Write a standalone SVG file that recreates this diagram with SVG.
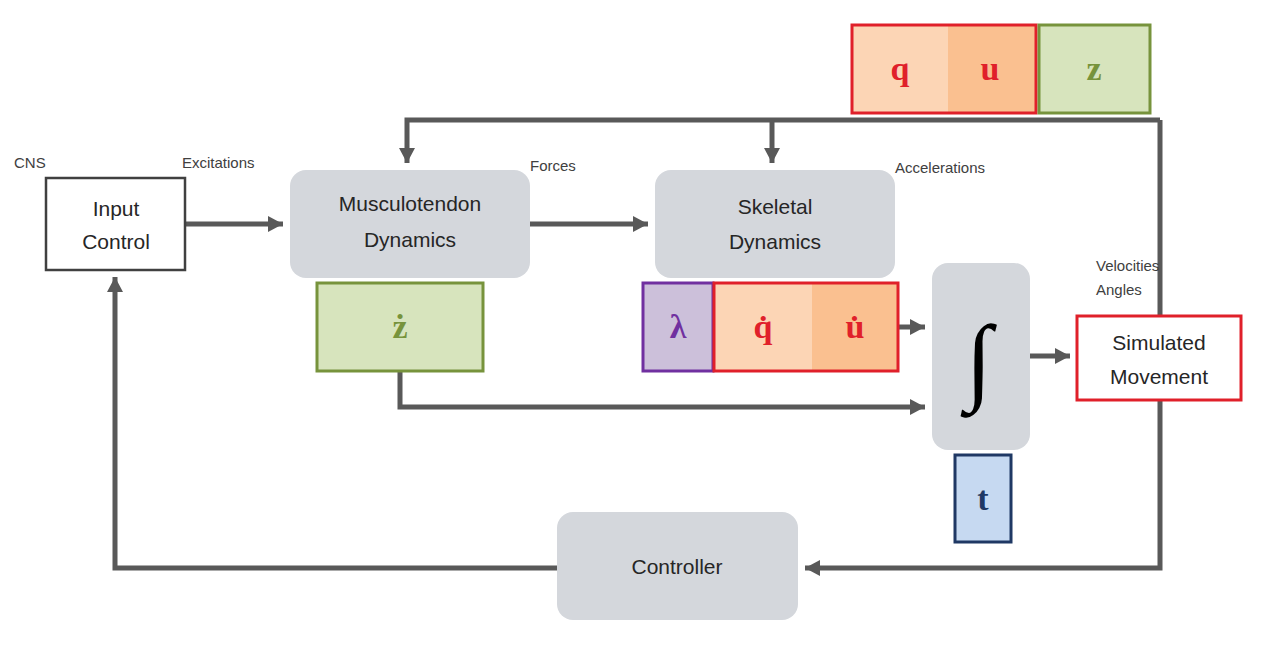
<svg xmlns="http://www.w3.org/2000/svg" width="1263" height="649" viewBox="0 0 1263 649">
<style>
.blk{fill:#d4d7dc}
.lbl{font-family:"Liberation Sans",Arial,sans-serif;font-size:15px;fill:#404040}
.nt{font-family:"Liberation Sans",Arial,sans-serif;font-size:21px;fill:#262626;text-anchor:middle}
.sym{font-family:"Liberation Serif","Times New Roman",serif;font-size:34px;font-weight:bold;text-anchor:middle}
.ln{fill:none;stroke:#595959;stroke-width:5}
</style>
<defs><marker id="a" markerWidth="4" markerHeight="4" refX="3" refY="2" orient="auto" markerUnits="strokeWidth"><path d="M0,0.4 L3,2 L0,3.6 Z" fill="#595959"/></marker></defs>
<g id="connectors">
<path class="ln" d="M1160,120 H407 V163" marker-end="url(#a)"/>
<path class="ln" d="M772,120 V163" marker-end="url(#a)"/>
<path class="ln" d="M1160,120 V568 H805" marker-end="url(#a)"/>
<path class="ln" d="M185,224 H283" marker-end="url(#a)"/>
<path class="ln" d="M530,224 H648" marker-end="url(#a)"/>
<path class="ln" d="M898,327 H925" marker-end="url(#a)"/>
<path class="ln" d="M400,371 V407 H925" marker-end="url(#a)"/>
<path class="ln" d="M1030,356 H1070" marker-end="url(#a)"/>
<path class="ln" d="M557,568 H115 V277" marker-end="url(#a)"/>
</g>
<g id="input"><rect x="46" y="178" width="139" height="92" fill="#fff" stroke="#404040" stroke-width="2.5"/><text class="nt" x="116" y="216">Input</text><text class="nt" x="116" y="249">Control</text></g>
<g id="musculo"><rect class="blk" x="290" y="170" width="240" height="108" rx="16"/><text class="nt" x="410" y="211" font-size="19">Musculotendon</text><text class="nt" x="410" y="247" font-size="19">Dynamics</text></g>
<g id="skeletal"><rect class="blk" x="655" y="170" width="240" height="108" rx="16"/><text class="nt" x="775" y="214" font-size="19">Skeletal</text><text class="nt" x="775" y="249" font-size="19">Dynamics</text></g>
<g id="integral"><rect class="blk" x="932" y="263" width="98" height="187" rx="16"/><text x="979" y="392" font-family="Liberation Serif,serif" font-size="96" text-anchor="middle" fill="#000">∫</text></g>
<g id="sim"><rect x="1077" y="316" width="164" height="84" fill="#fff" stroke="#e0202a" stroke-width="3"/><text class="nt" x="1159" y="350">Simulated</text><text class="nt" x="1159" y="384">Movement</text></g>
<g id="controller"><rect class="blk" x="557" y="512" width="241" height="108" rx="16"/><text class="nt" x="677" y="574">Controller</text></g>
<g id="zdot"><rect x="317" y="283" width="166" height="88" fill="#d7e4bd" stroke="#77933c" stroke-width="3"/><text class="sym" x="400" y="338" fill="#77933c">ż</text></g>
<g id="lambda"><rect x="643" y="283" width="70" height="88" fill="#ccc0da" stroke="#7030a0" stroke-width="3"/><text class="sym" x="678" y="338" fill="#7030a0" font-size="30">λ</text></g>
<g id="qudot"><rect x="714" y="283" width="98" height="88" fill="#fcd5b5"/><rect x="812" y="283" width="86" height="88" fill="#fac090"/><rect x="714" y="283" width="184" height="88" fill="none" stroke="#e0202a" stroke-width="3"/><text class="sym" x="763" y="338" fill="#e0202a">q̇</text><text class="sym" x="855" y="338" fill="#e0202a">u̇</text></g>
<g id="qu"><rect x="852" y="25" width="96" height="88" fill="#fcd5b5"/><rect x="948" y="25" width="88" height="88" fill="#fac090"/><rect x="852" y="25" width="184" height="88" fill="none" stroke="#e0202a" stroke-width="3"/><text class="sym" x="900" y="80" fill="#e0202a">q</text><text class="sym" x="990" y="80" fill="#e0202a">u</text></g>
<g id="z"><rect x="1039" y="25" width="111" height="88" fill="#d7e4bd" stroke="#77933c" stroke-width="3"/><text class="sym" x="1094" y="80" fill="#77933c">z</text></g>
<g id="t"><rect x="955" y="455" width="56" height="87" fill="#c6d9f1" stroke="#1f3864" stroke-width="3"/><text class="sym" x="983" y="510" fill="#1f3864">t</text></g>
<g id="labels">
<text class="lbl" x="14" y="168">CNS</text>
<text class="lbl" x="182" y="168">Excitations</text>
<text class="lbl" x="530" y="171">Forces</text>
<text class="lbl" x="895" y="173">Accelerations</text>
<text class="lbl" x="1096" y="271">Velocities</text>
<text class="lbl" x="1096" y="295">Angles</text>
</g>
</svg>
